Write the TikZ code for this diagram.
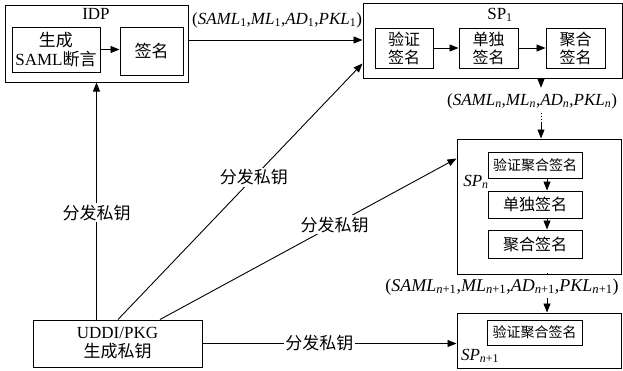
\documentclass[tikz,border=0pt]{standalone}
\usepackage{fontspec}
\setmainfont{Liberation Serif}
\newfontfamily\cjk{Noto Sans CJK SC}
\usetikzlibrary{arrows.meta}
\newcommand{\zh}[1]{{\cjk #1}}
\newcommand{\sub}[1]{\textsubscript{#1}}
\begin{document}
\begin{tikzpicture}[x=1pt,y=-1pt,font=\fontsize{17}{19}\selectfont,
  box/.style={draw,line width=1pt,inner sep=0pt,align=center},
  conn/.style={line width=0.9pt,-{Triangle[length=9pt,width=7pt]}},
  plain/.style={line width=0.9pt},
  lbl/.style={fill=white,inner sep=1.5pt},
  small/.style={font=\fontsize{14}{16}\selectfont},
  mid/.style={font=\fontsize{16}{18}\selectfont}]
\useasboundingbox (0,0) rectangle (623,370);
% IDP
\node[box,minimum width=183pt,minimum height=77pt] (idp) at (96.5,43.5) {};
\node (idpl) at (96,14) {IDP};
\node[box,minimum width=88pt,minimum height=45pt] (gen) at (56,49.5) {\zh{生成}\\SAML\zh{断言}};
\node[box,minimum width=63pt,minimum height=48pt] (sig) at (151.5,51) {\zh{签名}};
\draw[conn] (gen.east) -- (gen.east -| sig.west);
% SP1
\node[box,minimum width=259pt,minimum height=75pt] (sp1) at (492.5,40.5) {};
\node (sp1l) at (500,15) {SP\sub{1}};
\node[box,mid,minimum width=58pt,minimum height=40pt] (v1) at (404,48) {\zh{验证}\\\zh{签名}};
\node[box,mid,minimum width=59pt,minimum height=40pt] (s1) at (488.5,48) {\zh{单独}\\\zh{签名}};
\node[box,mid,minimum width=59pt,minimum height=40pt] (a1) at (575.5,48) {\zh{聚合}\\\zh{签名}};
\draw[conn] (v1.east) -- (s1.west);
\draw[conn] (s1.east) -- (a1.west);
% IDP -> SP1
\draw[conn] ([yshift=3.5pt]idp.east) -- ([yshift=3.5pt]idp.east -| sp1.west);
\node (m1) at (277,20) {(\textit{SAML}\sub{1},\textit{ML}\sub{1},\textit{AD}\sub{1},\textit{PKL}\sub{1})};
% SPn
\node[box,minimum width=164pt,minimum height=135pt] (spn) at (539,206.5) {};
\node (spnl) at (476,182) {\textit{SP}\sub{\textit{n}}};
\node[box,small,minimum width=94pt,minimum height=26pt] (vn) at (535,165) {\zh{验证聚合签名}};
\node[box,mid,minimum width=94pt,minimum height=27pt] (sn) at (535,204.5) {\zh{单独签名}};
\node[box,mid,minimum width=94pt,minimum height=28pt] (an) at (535,244) {\zh{聚合签名}};
\coordinate (ax) at (547,0);
\draw[conn] (vn.south -| ax) -- (sn.north -| ax);
\draw[conn] (sn.south -| ax) -- (an.north -| ax);
% SP1 -> SPn
\coordinate (bx) at (541,0);
\node (mn) at (532,101) {(\textit{SAML}\sub{\textit{n}},\textit{ML}\sub{\textit{n}},\textit{AD}\sub{\textit{n}},\textit{PKL}\sub{\textit{n}})};
\draw[conn] (sp1.south -| bx) -- ([yshift=2pt]bx |- mn.north);
\draw[line width=0.9pt,dotted] ([yshift=-1pt]bx |- mn.south) -- ([yshift=-11pt]bx |- mn.south);
\draw[conn] ([yshift=-11pt]bx |- mn.south) -- (spn.north -| bx);
% SPn+1
\node[box,minimum width=164pt,minimum height=55pt] (spn1) at (539,340.5) {};
\node (spn1l) at (480,356) {\textit{SP}\sub{\textit{n}+1}};
\node[box,small,minimum width=95pt,minimum height=25pt] (vn1) at (534.5,332.5) {\zh{验证聚合签名}};
\node[font=\fontsize{18}{20}\selectfont] (mn1) at (502,287) {(\textit{SAML}\sub{\textit{n}+1},\textit{ML}\sub{\textit{n}+1},\textit{AD}\sub{\textit{n}+1},\textit{PKL}\sub{\textit{n}+1})};
\draw[plain] (spn.south -| ax) -- ([yshift=2pt]ax |- mn1.north);
\draw[conn] ([yshift=1pt]ax |- mn1.south) -- (spn1.north -| ax);
% UDDI
\node[box,minimum width=169pt,minimum height=47pt] (uddi) at (117.5,343.5) {UDDI/PKG\\\zh{生成私钥}};
\draw[conn] (idp.south |- uddi.north) -- (idp.south)
  node[lbl,pos=0.45] (k1) {\zh{分发私钥}};
\draw[conn] ([xshift=0.5pt]uddi.north) -- ([yshift=15pt]sp1.south west)
  node[lbl,pos=0.556] (k2) {\zh{分发私钥}};
\draw[conn] ([xshift=42.5pt]uddi.north) -- ([yshift=-20pt]spn.north west)
  node[lbl,pos=0.589] (k3) {\zh{分发私钥}};
\draw[conn] (uddi.east) -- (spn1.west |- uddi.east)
  node[lbl,pos=0.46] (k4) {\zh{分发私钥}};
\end{tikzpicture}
\end{document}
